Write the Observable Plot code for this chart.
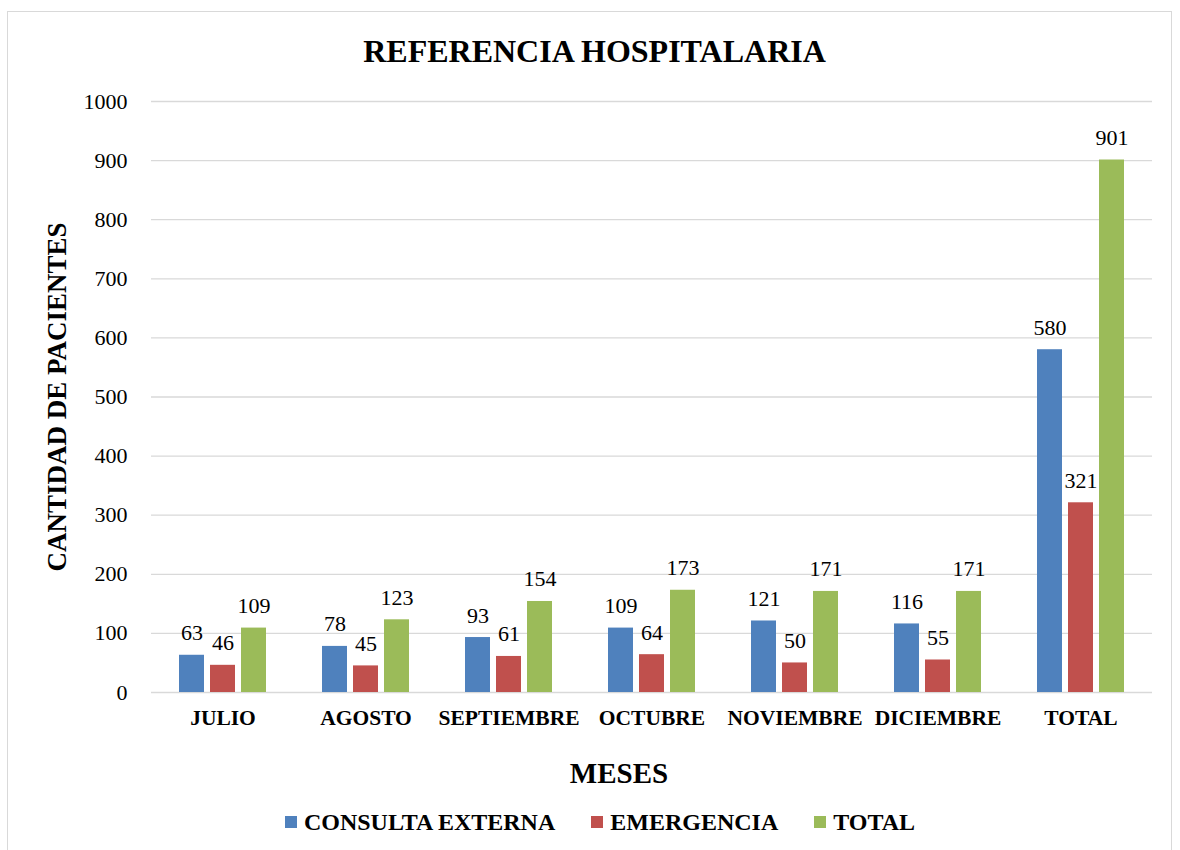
<!DOCTYPE html>
<html><head><meta charset="utf-8">
<script src="https://cdn.jsdelivr.net/npm/d3@7"></script>
<script src="https://cdn.jsdelivr.net/npm/@observablehq/plot@0.6"></script>
<style>
body{margin:0;background:#fff;font-family:"Liberation Serif","Times New Roman",serif;color:#000}
#page{position:relative;width:1180px;height:850px;overflow:hidden}
#frame{position:absolute;left:7px;top:11px;width:1165px;height:870px;border:1px solid #d9d9d9;box-sizing:border-box}
#title{position:absolute;left:0;width:1189px;top:31px;text-align:center;font-weight:bold;font-size:32px;line-height:40px}
#chart{position:absolute;left:0;top:80px}
#chart svg text{font-family:"Liberation Serif","Times New Roman",serif !important}
#ylabel{position:absolute;left:57px;top:397px;transform:translate(-50%,-50%) rotate(-90deg);white-space:nowrap;font-weight:bold;font-size:27px}
#xlabel{position:absolute;left:619px;top:773px;transform:translate(-50%,-50%);font-weight:bold;font-size:29px;white-space:nowrap}
#legend{position:absolute;left:0;width:1200px;top:807px;display:flex;justify-content:center;gap:36px;font-weight:bold;font-size:24px;line-height:30px}
#legend .item{display:flex;align-items:center;gap:7px}
#legend .sw{width:12px;height:12px;display:inline-block}
</style></head>
<body>
<div id="page">
<div id="frame"></div>
<div id="title">REFERENCIA HOSPITALARIA</div>
<div id="chart"></div>
<div id="ylabel">CANTIDAD DE PACIENTES</div>
<div id="xlabel">MESES</div>
<div id="legend"></div>
</div>
<script>
const months = ["JULIO","AGOSTO","SEPTIEMBRE","OCTUBRE","NOVIEMBRE","DICIEMBRE","TOTAL"];
const seriesNames = ["CONSULTA EXTERNA","EMERGENCIA","TOTAL"];
const consultaExterna = [63,78,93,109,121,116,580];
const emergencia = [46,45,61,64,50,55,321];
const totalValues = [109,123,154,173,171,171,901];
const yTicks = [0,100,200,300,400,500,600,700,800,900,1000];
const colors = ["#4F81BD","#C0504D","#9BBB59"];

const seriesValues = [consultaExterna, emergencia, totalValues];
const data = [];
months.forEach((m, i) => {
  seriesNames.forEach((s, j) => {
    data.push({month: m, series: s, value: seriesValues[j][i]});
  });
});

const serif = "Liberation Serif";
const chart = Plot.plot({
  width: 1180,
  height: 720,
  marginTop: 21,
  marginBottom: 108,
  marginLeft: 148,
  marginRight: 25,
  style: {fontFamily: serif, color: "#000", background: "transparent"},
  fx: {domain: months, padding: 0},
  x: {domain: seriesNames, paddingInner: 0.1875, paddingOuter: 0.84, axis: null},
  y: {domain: [0, 1000]},
  color: {domain: seriesNames, range: colors},
  marks: [
    Plot.gridY(yTicks, {stroke: "#d9d9d9", strokeOpacity: 1, strokeWidth: 1.3}),
    Plot.barY(data, {fx: "month", x: "series", y: "value", fill: "series"}),
    Plot.text(data, {fx: "month", x: "series", y: "value", text: d => String(d.value), lineAnchor: "bottom", dy: -15, fontSize: 22, fontFamily: serif, fill: "#000"}),
    Plot.axisY(yTicks, {tickSize: 0, tickPadding: 24, fontSize: 22, fontFamily: serif, label: null, tickFormat: d => String(d)}),
    Plot.axisFx({anchor: "bottom", tickSize: 0, tickPadding: 17, fontSize: 21.5, fontFamily: serif, fontWeight: "bold", label: null})
  ]
});
document.getElementById("chart").appendChild(chart);

const legend = document.getElementById("legend");
seriesNames.forEach((s, j) => {
  const item = document.createElement("div");
  item.className = "item";
  const sw = document.createElement("span");
  sw.className = "sw";
  sw.style.background = colors[j];
  const t = document.createElement("span");
  t.textContent = s;
  item.appendChild(sw);
  item.appendChild(t);
  legend.appendChild(item);
});
</script>
</body></html>
